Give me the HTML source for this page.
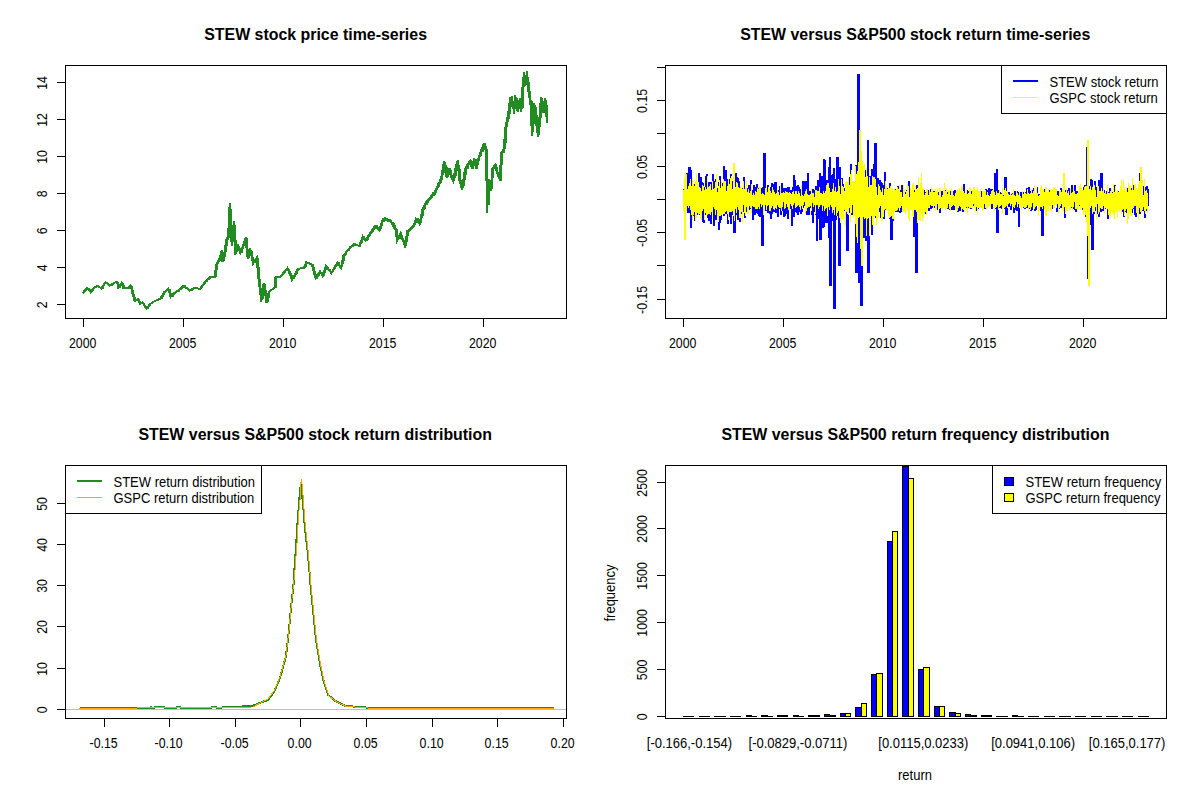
<!DOCTYPE html>
<html><head><meta charset="utf-8"><style>
html,body{margin:0;padding:0;background:#fff;width:1200px;height:800px;overflow:hidden}
svg{display:block}
path,line,rect{shape-rendering:crispEdges}
text{font-family:"Liberation Sans",sans-serif}
</style></head><body>
<svg width="1200" height="800" viewBox="0 0 1200 800">
<rect width="1200" height="800" fill="#fff"/>
<text x="0" y="0" transform="translate(315.6 40)" font-size="15.92" text-anchor="middle" font-weight="bold" fill="#000">STEW stock price time-series</text>
<path d="M82.9,293.6 L84.0,290.7 L87.4,288.0 L90.7,292.4 L93.0,289.0 L97.0,285.7 L101.4,288.5 L105.4,282.0 L109.9,285.7 L113.8,282.9 L117.2,282.0 L118.3,288.0 L121.7,282.9 L123.4,288.0 L127.9,288.5 L130.7,285.7 L132.4,293.0 L134.6,300.9 L138.0,299.2 L140.2,304.2 L142.5,302.6 L146.4,308.7 L149.8,304.2 L154.9,300.9 L160.5,298.6 L163.9,292.4 L168.4,288.5 L170.6,296.9 L174.0,293.0 L179.6,289.6 L183.5,285.9 L189.7,290.7 L195.2,287.5 L199.7,289.0 L205.0,282.2 L210.2,277.0 L214.7,277.0 L216.2,265.0 L219.2,259.0 L221.5,251.5 L222.2,262.0 L224.5,253.0 L226.0,241.0 L228.2,235.0 L229.7,203.5 L230.5,233.5 L232.0,245.5 L233.8,221.5 L235.0,254.5 L238.0,245.5 L240.2,253.0 L245.5,238.7 L247.7,259.0 L250.0,248.5 L253.0,263.5 L256.7,257.5 L258.2,277.0 L260.5,295.0 L261.2,301.7 L263.5,283.7 L266.5,302.4 L268.7,292.0 L274.7,287.5 L275.5,277.0 L280.0,277.0 L287.5,268.0 L292.0,280.0 L298.0,268.7 L304.0,268.0 L306.2,262.0 L312.0,265.1 L315.5,278.3 L319.9,271.3 L322.5,275.6 L326.0,266.0 L331.3,273.0 L337.4,262.5 L340.9,267.8 L343.5,255.5 L350.5,246.8 L354.0,244.1 L359.3,245.9 L362.8,236.3 L365.4,240.6 L375.0,225.8 L379.4,230.1 L382.9,218.8 L390.8,221.4 L396.0,231.0 L396.9,240.6 L400.4,233.6 L404.8,245.9 L407.4,231.0 L413.5,225.8 L416.1,218.8 L419.6,224.0 L422.3,210.0 L426.6,201.3 L434.5,192.5 L438.0,185.0 L441.0,179.0 L444.0,161.0 L446.0,177.0 L448.0,169.0 L453.0,181.0 L456.0,165.0 L458.0,163.0 L459.0,179.0 L462.0,189.0 L465.0,169.0 L470.0,161.0 L472.0,169.0 L474.0,159.0 L476.0,167.0 L480.0,153.0 L484.0,145.0 L486.0,149.0 L487.0,213.0 L489.0,179.0 L491.0,191.0 L492.0,169.0 L495.0,165.0 L497.0,173.0 L500.0,179.0 L501.0,153.0 L504.0,149.0 L505.0,130.0 L508.0,115.0 L509.5,103.0 L512.0,101.0 L514.0,112.0 L515.0,95.0 L517.0,111.0 L519.0,100.0 L521.0,112.0 L522.0,98.0 L523.0,77.0 L525.0,83.0 L527.0,75.0 L529.0,98.0 L530.0,95.0 L531.0,115.0 L532.0,136.0 L534.0,103.0 L536.0,122.0 L538.0,137.0 L540.0,110.0 L541.0,97.0 L543.0,113.0 L545.0,99.0 L547.0,123.0" fill="none" stroke="#228B22" stroke-width="2" stroke-linejoin="miter" />
<path d="M84 291.4V292.7M85 289.5V292.4M86 289.2V290.9M87 288.1V290.1M88 287.6V288.5M89 288.2V289.7M90 289.1V291.5M91 291.2V292.8M92 290.6V291.7M93 289.0V290.6M94 287.8V289.4M95 287.0V288.3M96 286.5V288.0M97 285.3V287.2M98 285.5V286.4M99 285.5V287.1M100 286.8V287.9M101 287.1V288.6M102 287.9V288.9M103 286.4V288.6M104 284.4V286.0M105 282.7V284.4M106 281.8V283.6M107 281.6V283.3M108 282.9V284.6M109 283.5V285.1M110 284.9V286.1M111 284.5V285.8M112 284.2V285.9M113 283.0V284.7M114 282.5V284.4M115 282.3V283.1M116 281.8V283.3M117 281.9V283.1M118 282.2V284.1M119 283.8V288.2M120 285.9V287.6M121 284.1V285.5M122 282.5V284.2M123 283.4V285.6M124 285.2V288.7M125 287.6V288.9M126 287.4V288.8M127 287.7V288.9M128 288.0V288.8M129 287.1V288.7M130 286.3V288.1M131 285.5V286.6M132 286.4V289.8M133 289.5V294.0M134 293.7V297.5M135 296.7V301.1M136 300.1V301.1M137 299.4V300.6M138 299.1V300.0M139 299.4V300.9M140 300.7V303.1M141 302.9V304.4M142 302.7V304.4M143 301.9V303.8M144 302.6V304.8M145 304.7V306.3M146 306.0V307.6M147 307.6V309.1M148 306.8V308.5M149 305.4V307.4M150 304.2V305.5M151 303.2V304.3M152 302.7V303.4M153 302.2V302.8M154 301.5V302.1M155 300.7V301.8M156 300.3V301.3M157 299.8V300.6M158 299.5V300.5M159 299.2V300.0M160 298.5V299.4M161 297.9V299.2M162 296.1V298.5M163 294.6V296.6M164 292.4V295.0M165 291.4V293.3M166 290.7V291.6M167 289.8V291.2M168 288.8V290.7M169 288.5V289.7M170 288.7V293.4M171 292.8V297.2M172 295.4V296.5M173 294.2V296.5M174 293.3V294.7M175 292.3V293.5M176 291.8V293.1M177 290.7V292.2M178 290.5V291.2M179 289.8V291.5M180 289.0V290.3M181 288.4V290.0M182 287.2V288.5M183 286.3V287.5M184 285.2V286.7M185 285.2V287.2M186 286.7V288.0M187 286.8V288.7M188 288.3V289.6M189 289.0V290.2M190 289.6V290.9M191 289.5V290.5M192 289.0V290.7M193 288.4V289.8M194 288.0V289.1M195 287.5V288.5M196 286.9V288.0M197 287.2V288.6M198 288.0V288.9M199 287.8V289.3M200 288.0V289.3M201 287.2V289.1M202 286.2V287.5M203 284.8V286.2M204 283.5V284.9M205 282.3V283.6M206 281.1V282.4M207 280.3V282.3M208 279.0V280.4M209 278.2V280.4M210 277.3V279.0M211 276.1V277.7M212 276.5V277.7M213 276.2V277.6M214 276.4V277.6M215 276.6V277.8M216 270.2V277.2M217 263.9V269.9M218 261.3V263.9M219 259.4V262.1M220 257.6V260.8M221 253.8V258.9M222 250.2V253.9M223 252.2V261.7M224 256.3V260.5M225 252.3V257.1M226 243.7V252.2M227 238.7V245.7M228 235.7V239.7M229 227.6V237.6M230 206.6V227.3M231 209.2V234.9M232 232.1V242.9M233 237.9V241.8M234 224.7V237.8M235 225.1V242.2M236 239.9V253.7M237 249.3V252.3M238 246.5V250.0M239 245.9V248.3M240 247.6V251.9M241 249.8V252.9M242 248.4V252.6M243 246.3V248.8M244 243.2V245.8M245 240.6V243.8M246 237.4V240.8M247 237.8V249.0M248 249.0V257.9M249 254.9V258.1M250 250.0V255.9M251 249.7V251.9M252 250.7V256.5M253 256.8V262.1M254 260.1V263.1M255 260.6V262.5M256 258.8V260.9M257 256.6V258.5M258 257.8V268.6M259 267.2V279.7M260 279.4V287.8M261 287.7V295.3M262 295.0V299.9M263 290.9V299.2M264 283.2V292.1M265 284.2V290.3M266 289.7V296.8M267 296.6V302.7M268 297.3V301.9M269 292.4V297.6M270 290.8V292.4M271 290.2V291.1M272 289.4V290.3M273 288.6V290.2M274 287.7V289.4M275 286.9V288.3M276 276.2V288.3M277 276.2V277.6M278 276.4V277.4M279 276.3V277.5M280 276.2V277.7M281 276.0V276.8M282 274.3V276.2M283 273.5V275.4M284 272.2V273.8M285 270.7V272.9M286 269.7V270.9M287 268.5V270.8M288 267.6V269.7M289 268.7V271.3M290 270.6V274.3M291 273.4V276.7M292 275.4V279.2M293 278.0V279.4M294 276.6V279.2M295 274.8V277.0M296 272.7V274.8M297 271.0V273.8M298 268.6V271.1M299 267.9V270.3M300 267.6V269.2M301 267.7V268.8M302 267.3V268.8M303 267.6V269.0M304 267.3V269.0M305 266.3V267.8M306 263.4V266.8M307 261.8V263.6M308 261.9V263.6M309 262.1V264.2M310 262.9V264.6M311 263.3V264.9M312 264.0V265.6M313 264.4V267.4M314 266.7V271.6M315 271.1V275.5M316 274.2V278.7M317 276.0V278.7M318 274.3V277.3M319 272.8V275.5M320 271.0V273.6M321 271.6V272.9M322 271.5V274.4M323 274.2V276.5M324 272.3V275.8M325 269.4V273.2M326 266.4V269.9M327 266.1V267.5M328 267.4V268.8M329 268.5V269.7M330 269.4V271.6M331 271.0V272.6M332 271.7V273.2M333 270.2V272.3M334 268.8V270.4M335 266.7V269.3M336 265.0V266.9M337 263.1V266.1M338 261.6V264.0M339 262.3V265.0M340 265.0V266.6M341 266.3V267.6M342 264.5V266.6M343 259.3V264.3M344 254.5V260.7M345 253.2V256.1M346 252.0V255.2M347 251.2V252.3M348 249.7V251.4M349 248.1V250.9M350 247.1V249.1M351 245.8V247.6M352 245.1V247.4M353 244.7V247.1M354 243.7V245.8M355 243.4V245.5M356 243.7V245.4M357 243.8V246.2M358 244.5V246.1M359 244.6V246.2M360 244.6V246.5M361 241.8V244.3M362 238.3V242.6M363 235.6V239.6M364 236.1V238.0M365 238.2V239.7M366 238.5V241.4M367 238.3V240.5M368 236.4V240.1M369 235.0V237.4M370 233.2V236.3M371 231.3V234.0M372 229.6V233.0M373 229.0V231.6M374 227.0V230.4M375 224.8V229.1M376 224.7V228.1M377 225.2V228.4M378 226.5V229.1M379 228.0V230.4M380 228.4V230.5M381 225.4V228.8M382 221.5V226.2M383 219.4V222.4M384 217.5V221.6M385 217.4V221.2M386 217.8V220.9M387 218.3V221.1M388 219.5V221.7M389 219.1V221.9M390 219.4V222.1M391 220.0V222.7M392 221.7V224.1M393 221.9V226.1M394 223.4V227.9M395 224.9V229.3M396 228.2V231.6M397 228.8V236.9M398 236.0V239.9M399 236.4V238.9M400 234.4V238.5M401 232.3V236.0M402 235.2V237.4M403 237.8V240.5M404 240.1V243.2M405 243.3V246.1M406 241.2V245.9M407 235.0V241.9M408 230.3V236.0M409 229.3V231.8M410 228.3V230.7M411 227.4V229.9M412 226.4V228.9M413 225.7V228.3M414 224.1V226.6M415 222.4V224.7M416 219.7V223.3M417 218.1V221.5M418 217.9V221.7M419 220.9V223.8M420 221.5V224.6M421 217.8V222.5M422 212.8V217.9M423 207.8V215.5M424 205.5V210.1M425 204.4V208.5M426 201.5V205.2M427 199.9V205.1M428 199.0V202.7M429 198.2V200.6M430 196.5V200.0M431 195.8V198.7M432 193.8V197.5M433 192.2V196.2M434 191.8V195.5M435 190.6V195.4M436 188.0V192.8M437 187.1V189.7M438 183.4V187.6M439 181.7V186.9M440 179.4V183.7M441 177.7V182.8M442 174.8V180.4M443 167.4V175.4M444 161.8V168.6M445 161.6V167.9M446 164.5V174.2M447 171.9V178.1M448 167.8V176.6M449 168.1V171.9M450 167.5V174.4M451 170.4V178.1M452 175.3V178.7M453 178.5V181.9M454 175.2V180.5M455 171.3V178.0M456 165.5V175.6M457 161.1V167.8M458 160.0V165.5M459 165.4V172.4M460 168.5V182.6M461 180.4V186.1M462 184.0V189.7M463 183.8V188.1M464 177.7V186.2M465 169.6V180.0M466 166.7V175.1M467 164.4V169.2M468 163.4V168.7M469 160.8V165.2M470 160.4V164.8M471 159.5V165.0M472 163.6V169.3M473 163.1V169.2M474 158.1V165.5M475 158.7V164.7M476 158.7V168.0M477 164.1V168.7M478 158.4V164.6M479 154.8V161.3M480 151.5V157.4M481 149.0V156.1M482 147.3V151.4M483 144.4V152.0M484 143.0V148.8M485 143.3V150.2M486 145.9V151.7M487 149.1V183.3M488 179.6V205.3M489 185.4V205.1M490 180.1V187.5M491 183.2V190.1M492 178.0V189.2M493 166.6V177.7M494 165.7V168.2M495 164.2V168.6M496 163.9V169.3M497 167.1V173.9M498 171.5V176.9M499 173.4V178.9M500 176.6V180.9M501 164.3V180.6M502 150.7V165.0M503 149.0V152.4M504 147.5V153.1M505 137.5V148.9M506 123.5V142.5M507 119.2V126.7M508 114.0V122.1M509 105.8V119.3M510 97.4V113.5M511 98.4V107.0M512 95.7V106.4M513 100.8V107.1M514 101.2V114.2M515 99.3V109.0M516 96.5V103.7M517 97.6V110.1M518 102.1V111.9M519 100.7V107.0M520 97.6V107.4M521 106.7V111.5M522 102.8V109.4M523 83.0V107.6M524 71.6V86.9M525 78.3V85.9M526 74.6V84.5M527 70.5V79.8M528 77.3V86.4M529 81.9V97.7M530 91.2V102.3M531 99.5V109.7M532 101.2V127.5M533 123.0V131.6M534 107.4V123.9M535 105.2V110.8M536 107.3V121.5M537 114.9V127.8M538 124.1V135.8M539 127.5V135.0M540 113.7V126.9M541 99.6V118.4M542 97.6V107.2M543 100.5V111.2M544 106.4V112.5M545 98.4V112.6M546 99.6V109.3M547 104.5V121.1" stroke="#228B22" stroke-width="2" fill="none"/>
<rect x="65.5" y="65.5" width="501.0" height="253.0" fill="none" stroke="#000" stroke-width="1"/>
<line x1="83.5" y1="318.5" x2="83.5" y2="327" stroke="#000" stroke-width="1" />
<text x="0" y="0" transform="translate(82.7 348) scale(0.95,1.12)" font-size="13" text-anchor="middle" font-weight="normal" fill="#000">2000</text>
<line x1="183.5" y1="318.5" x2="183.5" y2="327" stroke="#000" stroke-width="1" />
<text x="0" y="0" transform="translate(182.7 348) scale(0.95,1.12)" font-size="13" text-anchor="middle" font-weight="normal" fill="#000">2005</text>
<line x1="283.5" y1="318.5" x2="283.5" y2="327" stroke="#000" stroke-width="1" />
<text x="0" y="0" transform="translate(282.7 348) scale(0.95,1.12)" font-size="13" text-anchor="middle" font-weight="normal" fill="#000">2010</text>
<line x1="383.5" y1="318.5" x2="383.5" y2="327" stroke="#000" stroke-width="1" />
<text x="0" y="0" transform="translate(382.7 348) scale(0.95,1.12)" font-size="13" text-anchor="middle" font-weight="normal" fill="#000">2015</text>
<line x1="483.5" y1="318.5" x2="483.5" y2="327" stroke="#000" stroke-width="1" />
<text x="0" y="0" transform="translate(482.7 348) scale(0.95,1.12)" font-size="13" text-anchor="middle" font-weight="normal" fill="#000">2020</text>
<line x1="57" y1="304.5" x2="65.5" y2="304.5" stroke="#000" stroke-width="1" />
<text x="0" y="0" transform="translate(46.5 304.9) rotate(-90) scale(0.95,1.12)" font-size="13" text-anchor="middle" font-weight="normal" fill="#000">2</text>
<line x1="57" y1="267.5" x2="65.5" y2="267.5" stroke="#000" stroke-width="1" />
<text x="0" y="0" transform="translate(46.5 267.9) rotate(-90) scale(0.95,1.12)" font-size="13" text-anchor="middle" font-weight="normal" fill="#000">4</text>
<line x1="57" y1="230.5" x2="65.5" y2="230.5" stroke="#000" stroke-width="1" />
<text x="0" y="0" transform="translate(46.5 230.9) rotate(-90) scale(0.95,1.12)" font-size="13" text-anchor="middle" font-weight="normal" fill="#000">6</text>
<line x1="57" y1="193.5" x2="65.5" y2="193.5" stroke="#000" stroke-width="1" />
<text x="0" y="0" transform="translate(46.5 193.9) rotate(-90) scale(0.95,1.12)" font-size="13" text-anchor="middle" font-weight="normal" fill="#000">8</text>
<line x1="57" y1="156.5" x2="65.5" y2="156.5" stroke="#000" stroke-width="1" />
<text x="0" y="0" transform="translate(46.5 156.9) rotate(-90) scale(0.95,1.12)" font-size="13" text-anchor="middle" font-weight="normal" fill="#000">10</text>
<line x1="57" y1="119.5" x2="65.5" y2="119.5" stroke="#000" stroke-width="1" />
<text x="0" y="0" transform="translate(46.5 119.9) rotate(-90) scale(0.95,1.12)" font-size="13" text-anchor="middle" font-weight="normal" fill="#000">12</text>
<line x1="57" y1="82.5" x2="65.5" y2="82.5" stroke="#000" stroke-width="1" />
<text x="0" y="0" transform="translate(46.5 82.9) rotate(-90) scale(0.95,1.12)" font-size="13" text-anchor="middle" font-weight="normal" fill="#000">14</text>
<text x="0" y="0" transform="translate(915.2 40)" font-size="15.92" text-anchor="middle" font-weight="bold" fill="#000">STEW versus S&amp;P500 stock return time-series</text>
<path d="M684 188.6V209.0M685 180.9V221.4M686 187.8V209.2M687 172.6V211.1M688 185.4V212.6M689 166.5V213.4M690 166.5V211.1M691 169.5V227.8M692 185.3V219.1M693 186.7V211.0M694 186.7V216.0M695 183.5V221.3M696 189.7V215.8M697 184.7V210.6M698 190.0V214.5M699 173.3V213.9M700 177.3V215.0M701 177.3V212.4M702 181.9V212.2M703 182.8V221.6M704 192.5V223.2M705 186.9V214.9M706 175.6V208.9M707 173.5V206.5M708 182.2V218.1M709 181.6V221.2M710 181.9V213.7M711 188.0V224.2M712 182.2V210.5M713 174.4V213.4M714 180.9V225.8M715 180.9V219.7M716 179.3V219.7M717 192.1V215.5M718 188.2V215.2M719 182.3V229.6M720 176.4V223.3M721 190.5V220.4M722 183.1V206.7M723 186.4V206.9M724 166.3V215.8M725 189.3V214.4M726 170.4V212.0M727 181.2V213.7M728 179.1V223.7M729 178.9V217.1M730 184.9V212.7M731 174.4V224.1M732 181.1V215.0M733 181.1V212.5M734 183.1V232.9M735 173.4V232.9M736 173.4V214.7M737 176.7V214.7M738 178.2V219.7M739 181.1V216.0M740 187.6V222.1M741 189.4V213.5M742 192.4V211.2M743 188.3V211.5M744 177.0V207.8M745 191.3V218.0M746 188.9V212.0M747 191.0V211.5M748 188.4V211.7M749 184.9V210.3M750 186.8V208.0M751 180.3V209.1M752 190.8V211.1M753 190.0V220.1M754 185.1V214.5M755 187.3V214.5M756 191.5V212.7M757 183.8V213.2M758 190.2V213.8M759 187.9V215.6M760 187.5V216.7M761 187.5V209.0M762 190.3V246.1M763 186.5V246.1M764 153.3V209.0M765 153.3V204.8M766 189.9V210.7M767 189.9V210.4M768 184.5V212.5M769 191.3V210.1M770 194.7V214.1M771 187.3V219.3M772 183.4V214.4M773 188.1V208.8M774 183.5V211.7M775 181.7V205.2M776 181.7V212.9M777 192.9V209.7M778 191.1V217.2M779 190.1V209.0M780 186.3V208.5M781 194.9V215.0M782 183.2V210.5M783 192.9V206.5M784 188.3V216.5M785 188.0V216.1M786 188.0V204.2M787 190.7V213.6M788 186.8V219.0M789 187.1V207.7M790 190.5V207.5M791 189.7V209.2M792 190.5V225.6M793 186.8V212.2M794 175.1V216.5M795 180.2V207.7M796 189.3V211.5M797 185.5V212.7M798 185.3V214.7M799 186.5V211.7M800 188.5V210.2M801 193.7V213.7M802 187.7V211.5M803 180.6V208.0M804 180.8V206.3M805 186.5V204.8M806 180.7V212.0M807 180.7V215.1M808 172.8V202.7M809 191.9V215.4M810 190.7V204.8M811 192.5V207.9M812 191.0V214.9M813 188.7V223.2M814 190.0V211.7M815 189.9V211.7M816 185.7V214.6M817 189.1V241.2M818 179.6V213.7M819 185.3V218.7M820 172.6V239.5M821 180.8V239.5M822 175.6V225.7M823 184.5V227.9M824 159.1V227.2M825 159.9V222.7M826 180.0V222.7M827 180.0V222.8M828 190.1V214.6M829 166.5V238.3M830 157.1V285.9M831 174.9V285.9M832 177.3V219.2M833 173.5V221.3M834 168.1V309.2M835 179.4V309.2M836 182.3V219.7M837 156.6V216.1M838 156.6V214.5M839 189.8V266.0M840 167.1V266.0M841 187.1V210.2M842 178.4V212.1M843 184.1V210.6M844 187.6V211.2M845 189.1V208.3M846 188.5V218.3M847 188.9V251.4M848 191.0V251.4M849 184.3V212.9M850 177.2V206.0M851 163.8V213.5M852 187.2V214.6M853 181.4V204.3M854 187.2V214.0M855 186.2V210.7M856 164.5V272.7M857 178.8V272.7M858 73.7V232.9M859 73.7V282.6M860 163.6V282.6M861 157.6V305.8M862 182.5V305.8M863 167.0V238.4M864 179.7V214.9M865 177.7V237.5M866 169.5V241.0M867 187.6V227.5M868 140.0V272.7M869 187.0V272.7M870 175.8V214.5M871 176.5V222.6M872 168.9V234.7M873 175.8V214.6M874 164.0V215.9M875 143.3V211.1M876 143.3V218.2M877 181.4V212.8M878 178.2V216.6M879 187.0V212.2M880 179.6V206.3M881 181.9V217.6M882 183.0V209.0M883 186.3V218.5M884 185.0V218.5M885 171.5V201.8M886 190.8V210.1M887 191.1V209.3M888 187.6V205.8M889 193.1V215.4M890 183.2V218.5M891 191.1V239.5M892 191.5V239.5M893 193.2V220.5M894 192.3V207.7M895 188.6V208.9M896 192.5V211.9M897 190.6V212.1M898 185.8V211.8M899 192.3V211.8M900 191.6V212.8M901 190.3V212.1M902 185.3V207.0M903 192.5V207.9M904 192.4V208.5M905 193.6V206.8M906 192.0V204.2M907 190.0V203.7M908 194.5V208.2M909 180.5V211.7M910 195.5V204.3M911 192.2V207.9M912 193.9V207.9M913 187.4V207.3M914 191.3V236.9M915 189.6V207.4M916 195.0V272.7M917 185.0V272.7M918 193.2V210.2M919 190.0V208.8M920 190.6V202.6M921 193.6V210.0M922 193.8V206.9M923 192.5V206.1M924 190.1V207.3M925 191.6V213.6M926 192.2V210.7M927 194.5V208.7M928 190.4V204.4M929 192.0V210.9M930 192.6V207.4M931 189.4V208.6M932 190.0V208.1M933 191.4V206.5M934 191.0V206.8M935 193.0V208.3M936 195.4V208.7M937 193.6V209.5M938 194.4V206.5M939 191.6V204.2M940 191.4V213.1M941 191.7V208.5M942 190.5V206.3M943 192.4V207.6M944 192.0V205.4M945 192.6V205.4M946 189.8V207.2M947 191.5V206.9M948 191.5V208.7M949 191.8V207.3M950 190.8V210.2M951 190.9V207.4M952 192.3V210.3M953 190.9V207.6M954 192.2V209.6M955 190.4V203.3M956 192.4V207.8M957 193.0V204.2M958 192.2V212.1M959 193.5V207.4M960 194.2V210.6M961 192.6V206.6M962 193.4V205.3M963 196.0V211.5M964 183.6V206.1M965 194.8V206.1M966 194.4V207.4M967 190.3V208.4M968 190.7V204.6M969 191.9V208.0M970 189.6V209.0M971 193.4V208.6M972 191.2V207.9M973 191.3V203.0M974 187.8V205.5M975 191.3V206.6M976 192.5V208.1M977 190.3V211.3M978 191.3V208.7M979 191.3V206.2M980 192.2V205.9M981 190.5V203.8M982 194.3V203.9M983 191.5V205.1M984 191.5V207.0M985 191.9V208.6M986 188.5V204.7M987 191.8V204.4M988 189.5V206.7M989 188.0V202.4M990 189.2V205.9M991 195.8V204.9M992 189.1V209.1M993 193.3V204.8M994 192.3V206.3M995 173.2V203.9M996 173.2V209.4M997 169.2V232.9M998 190.3V232.9M999 192.7V207.8M1000 191.9V207.0M1001 193.3V208.2M1002 195.1V208.8M1003 195.2V207.4M1004 195.3V206.6M1005 176.5V209.3M1006 176.5V215.4M1007 191.0V215.4M1008 193.9V204.5M1009 191.6V206.7M1010 195.8V205.6M1011 195.1V210.4M1012 193.7V203.6M1013 192.7V205.6M1014 193.5V212.5M1015 190.7V206.9M1016 192.1V209.8M1017 190.6V210.6M1018 191.7V210.6M1019 191.7V227.1M1020 193.2V205.3M1021 191.8V208.2M1022 195.9V205.2M1023 191.7V204.5M1024 194.9V207.6M1025 195.6V208.8M1026 192.4V208.1M1027 187.8V206.4M1028 191.6V207.6M1029 187.1V207.5M1030 190.7V209.3M1031 191.2V211.0M1032 197.0V209.8M1033 189.7V205.1M1034 188.4V205.1M1035 194.4V210.9M1036 195.8V210.1M1037 187.1V204.3M1038 195.5V204.5M1039 193.6V209.1M1040 194.6V209.4M1041 191.6V211.0M1042 196.6V236.2M1043 195.5V236.2M1044 195.0V207.1M1045 188.7V206.9M1046 190.7V206.3M1047 193.0V204.8M1048 196.3V205.2M1049 190.3V206.1M1050 195.7V206.4M1051 194.8V209.1M1052 193.4V209.1M1053 189.5V206.6M1054 195.8V204.1M1055 192.0V202.8M1056 196.2V204.1M1057 190.8V211.6M1058 191.1V211.6M1059 195.5V208.5M1060 192.9V205.7M1061 187.5V207.5M1062 193.2V203.4M1063 192.9V206.0M1064 192.6V206.1M1065 194.0V217.7M1066 189.7V206.8M1067 189.8V208.3M1068 190.2V205.0M1069 188.4V206.4M1070 189.9V207.5M1071 192.9V207.5M1072 184.6V206.9M1073 187.9V207.3M1074 190.5V209.2M1075 185.3V210.3M1076 194.9V211.7M1077 191.0V206.0M1078 191.6V207.2M1079 194.1V206.0M1080 192.8V202.7M1081 193.4V203.4M1082 194.5V207.4M1083 189.6V210.3M1084 186.7V208.1M1085 185.4V209.1M1086 197.1V216.8M1087 146.6V210.3M1088 146.6V279.3M1089 189.2V279.3M1090 185.6V224.6M1091 179.4V217.0M1092 180.1V249.5M1093 188.1V249.5M1094 191.9V214.4M1095 180.5V211.1M1096 187.3V207.8M1097 190.8V214.3M1098 186.0V207.7M1099 180.2V216.5M1100 185.9V212.3M1101 173.2V212.2M1102 173.2V210.6M1103 191.5V210.5M1104 190.4V208.9M1105 193.3V208.5M1106 192.7V206.5M1107 190.7V207.1M1108 192.4V219.2M1109 192.2V205.7M1110 188.3V202.5M1111 193.4V207.8M1112 193.3V205.8M1113 192.4V205.9M1114 194.2V205.5M1115 185.4V209.5M1116 193.9V206.7M1117 193.4V211.5M1118 191.3V207.3M1119 192.1V208.4M1120 195.4V204.9M1121 188.4V209.6M1122 191.0V207.0M1123 189.6V212.1M1124 190.9V217.2M1125 190.9V209.5M1126 190.2V211.8M1127 192.7V213.0M1128 188.1V210.7M1129 192.8V212.9M1130 191.4V204.1M1131 188.4V210.1M1132 191.1V213.3M1133 194.3V206.1M1134 185.4V208.9M1135 185.0V214.5M1136 190.0V217.2M1137 189.5V213.5M1138 196.1V211.6M1139 194.3V211.6M1140 173.2V213.9M1141 173.2V206.9M1142 190.8V203.4M1143 193.6V210.5M1144 186.2V209.8M1145 187.3V217.6M1146 188.6V211.2M1147 186.2V211.2M1148 188.7V206.4" stroke="#0000FF" stroke-width="2" fill="none"/>
<path d="M683.5 190.2V211.2M684.5 177.5V239.5M685.5 173.8V239.5M686.5 173.8V211.1M687.5 188.8V206.4M688.5 185.5V208.4M689.5 182.8V205.7M690.5 178.7V209.5M691.5 186.3V215.1M692.5 178.2V220.1M693.5 183.6V215.4M694.5 185.9V211.5M695.5 180.9V220.8M696.5 173.8V218.2M697.5 182.0V212.9M698.5 182.0V215.0M699.5 187.4V214.3M700.5 188.4V217.6M701.5 191.0V220.2M702.5 184.6V210.5M703.5 185.5V208.9M704.5 190.0V220.1M705.5 187.1V213.0M706.5 188.5V215.4M707.5 176.1V214.5M708.5 186.6V213.7M709.5 186.2V213.5M710.5 183.5V215.0M711.5 189.5V212.3M712.5 180.9V216.7M713.5 188.5V207.1M714.5 188.0V208.8M715.5 181.8V215.4M716.5 173.8V210.4M717.5 192.2V217.0M718.5 185.6V221.9M719.5 180.1V215.6M720.5 187.6V216.1M721.5 180.7V214.7M722.5 185.6V213.5M723.5 179.1V213.6M724.5 181.0V213.6M725.5 180.6V211.6M726.5 190.9V211.2M727.5 186.3V213.9M728.5 179.0V219.8M729.5 184.0V211.7M730.5 178.4V211.5M731.5 175.6V211.5M732.5 188.6V211.3M733.5 163.2V216.2M734.5 163.2V221.0M735.5 187.3V208.8M736.5 181.9V212.8M737.5 182.9V207.0M738.5 186.7V210.0M739.5 187.5V218.1M740.5 185.8V218.1M741.5 187.6V212.0M742.5 189.2V222.6M743.5 181.1V204.7M744.5 188.7V212.9M745.5 185.9V215.6M746.5 180.8V207.2M747.5 192.0V214.0M748.5 189.2V214.0M749.5 192.9V206.0M750.5 191.3V207.9M751.5 183.8V213.1M752.5 194.8V205.8M753.5 193.3V207.1M754.5 194.8V207.3M755.5 190.5V209.4M756.5 192.2V208.9M757.5 187.8V209.4M758.5 189.1V206.9M759.5 186.0V208.5M760.5 187.4V203.7M761.5 194.1V207.2M762.5 192.9V205.4M763.5 194.3V215.2M764.5 195.1V210.7M765.5 188.3V204.9M766.5 188.3V209.9M767.5 192.2V205.5M768.5 186.8V205.4M769.5 187.5V211.2M770.5 191.3V211.1M771.5 192.9V207.5M772.5 187.4V205.5M773.5 189.7V208.5M774.5 191.9V209.5M775.5 193.8V208.4M776.5 193.1V208.9M777.5 189.8V205.4M778.5 191.8V207.4M779.5 194.9V208.2M780.5 184.6V207.9M781.5 192.9V211.0M782.5 193.3V207.2M783.5 192.2V202.3M784.5 192.6V208.6M785.5 190.8V207.7M786.5 192.1V203.6M787.5 192.0V207.0M788.5 192.8V209.5M789.5 192.3V210.4M790.5 193.4V204.3M791.5 194.3V205.7M792.5 192.4V208.9M793.5 190.6V204.6M794.5 193.6V202.9M795.5 191.3V208.3M796.5 190.8V206.7M797.5 193.6V205.7M798.5 191.4V205.2M799.5 192.6V207.3M800.5 196.4V209.6M801.5 186.4V205.6M802.5 194.9V208.5M803.5 196.3V205.4M804.5 194.2V202.4M805.5 190.5V214.1M806.5 188.5V211.3M807.5 193.5V208.3M808.5 194.6V207.2M809.5 194.6V207.0M810.5 194.1V205.7M811.5 188.8V211.1M812.5 192.6V202.8M813.5 192.9V207.1M814.5 197.4V205.0M815.5 189.5V213.8M816.5 189.5V205.4M817.5 191.2V205.3M818.5 191.3V209.4M819.5 187.2V207.2M820.5 193.1V205.4M821.5 192.6V204.6M822.5 193.6V210.8M823.5 190.5V206.0M824.5 192.5V211.0M825.5 190.9V208.7M826.5 185.4V207.5M827.5 183.3V216.3M828.5 183.3V206.5M829.5 187.8V210.0M830.5 191.6V204.9M831.5 192.0V207.0M832.5 188.5V212.6M833.5 182.8V210.1M834.5 191.0V215.0M835.5 186.5V206.9M836.5 192.0V215.8M837.5 191.2V212.8M838.5 179.4V211.1M839.5 186.2V218.1M840.5 194.0V222.5M841.5 178.7V218.8M842.5 186.1V218.9M843.5 187.1V218.9M844.5 190.9V209.9M845.5 182.0V225.8M846.5 180.5V211.9M847.5 182.1V214.0M848.5 178.4V214.7M849.5 185.4V208.0M850.5 173.6V222.0M851.5 170.3V213.1M852.5 181.4V205.4M853.5 180.5V217.2M854.5 182.4V216.2M855.5 166.1V223.8M856.5 174.2V237.2M857.5 171.4V243.1M858.5 162.2V217.6M859.5 130.0V217.2M860.5 130.0V249.2M861.5 150.5V266.0M862.5 161.0V266.0M863.5 166.3V217.4M864.5 163.5V219.1M865.5 176.7V217.5M866.5 168.2V236.1M867.5 175.9V219.4M868.5 186.9V217.7M869.5 177.2V235.8M870.5 184.7V226.8M871.5 184.8V216.0M872.5 176.1V224.6M873.5 176.6V224.6M874.5 176.6V217.2M875.5 179.1V215.6M876.5 187.1V225.4M877.5 194.5V219.0M878.5 184.1V216.9M879.5 185.5V208.1M880.5 189.9V206.1M881.5 191.6V221.3M882.5 188.4V221.3M883.5 194.6V217.1M884.5 189.1V210.1M885.5 181.4V208.9M886.5 186.1V211.3M887.5 188.6V210.1M888.5 187.9V216.1M889.5 188.3V218.0M890.5 185.7V216.9M891.5 189.3V215.8M892.5 188.1V219.4M893.5 190.9V219.4M894.5 189.2V210.5M895.5 190.0V211.2M896.5 190.1V210.6M897.5 186.5V210.4M898.5 188.6V208.2M899.5 185.4V210.5M900.5 192.1V208.0M901.5 192.0V206.4M902.5 196.6V212.1M903.5 186.2V212.3M904.5 189.3V212.3M905.5 194.4V214.2M906.5 191.2V208.4M907.5 183.8V210.5M908.5 186.4V218.7M909.5 197.0V220.6M910.5 187.5V210.4M911.5 190.3V209.5M912.5 183.9V216.3M913.5 183.3V217.2M914.5 192.3V210.4M915.5 186.1V209.5M916.5 188.9V211.7M917.5 187.7V222.6M918.5 178.2V220.0M919.5 187.8V220.1M920.5 182.8V220.9M921.5 173.4V213.6M922.5 187.0V220.9M923.5 188.7V218.0M924.5 194.7V213.6M925.5 193.2V211.7M926.5 188.9V215.4M927.5 189.1V210.5M928.5 194.7V207.8M929.5 190.5V208.1M930.5 191.5V205.1M931.5 187.2V205.8M932.5 188.5V205.7M933.5 192.3V209.6M934.5 191.9V206.3M935.5 188.7V210.5M936.5 191.3V209.7M937.5 188.0V203.6M938.5 195.2V207.6M939.5 187.5V209.0M940.5 188.3V208.3M941.5 197.1V209.4M942.5 195.0V210.0M943.5 189.9V208.1M944.5 183.1V207.0M945.5 190.9V210.0M946.5 187.8V209.2M947.5 194.4V207.8M948.5 189.8V204.3M949.5 190.3V208.6M950.5 194.8V211.2M951.5 188.5V206.7M952.5 190.9V205.5M953.5 195.3V205.4M954.5 196.0V206.4M955.5 192.9V209.6M956.5 190.5V209.3M957.5 189.3V210.6M958.5 190.3V207.9M959.5 188.3V206.3M960.5 191.4V207.0M961.5 186.0V210.6M962.5 187.3V208.7M963.5 190.8V209.6M964.5 192.9V210.7M965.5 194.2V206.6M966.5 189.4V206.6M967.5 193.7V214.1M968.5 192.9V206.7M969.5 186.9V209.2M970.5 187.9V207.8M971.5 194.0V207.6M972.5 189.8V209.3M973.5 187.0V203.7M974.5 187.0V208.3M975.5 190.1V210.9M976.5 189.6V207.3M977.5 187.0V213.7M978.5 190.8V207.9M979.5 191.2V208.2M980.5 189.1V207.0M981.5 196.5V207.9M982.5 190.7V211.2M983.5 190.8V210.4M984.5 190.8V204.0M985.5 190.3V208.2M986.5 195.2V210.1M987.5 191.8V208.3M988.5 194.9V206.7M989.5 195.7V205.6M990.5 193.9V207.9M991.5 191.4V204.1M992.5 190.4V203.9M993.5 190.3V208.4M994.5 191.9V210.8M995.5 195.4V207.8M996.5 191.4V206.9M997.5 192.5V204.6M998.5 192.6V210.2M999.5 189.5V206.8M1000.5 193.5V205.8M1001.5 194.1V204.6M1002.5 187.5V212.9M1003.5 195.6V208.0M1004.5 190.0V208.1M1005.5 187.8V207.2M1006.5 191.0V205.8M1007.5 189.0V208.0M1008.5 193.6V204.2M1009.5 195.0V202.9M1010.5 193.3V206.2M1011.5 194.5V204.3M1012.5 193.8V207.4M1013.5 189.9V206.7M1014.5 194.9V207.6M1015.5 195.9V204.8M1016.5 190.8V202.1M1017.5 192.6V207.1M1018.5 195.1V203.9M1019.5 191.0V207.8M1020.5 196.3V207.7M1021.5 197.7V210.3M1022.5 190.9V205.9M1023.5 194.0V207.0M1024.5 194.0V208.1M1025.5 192.9V208.2M1026.5 194.4V207.3M1027.5 188.9V204.7M1028.5 193.1V210.6M1029.5 194.2V208.2M1030.5 193.2V209.7M1031.5 188.5V207.0M1032.5 193.2V202.6M1033.5 190.6V206.9M1034.5 184.5V208.8M1035.5 193.0V207.0M1036.5 186.6V206.4M1037.5 193.2V206.4M1038.5 196.1V216.1M1039.5 195.4V210.5M1040.5 187.0V206.9M1041.5 185.5V206.5M1042.5 190.3V209.2M1043.5 190.3V206.4M1044.5 191.5V209.5M1045.5 186.9V216.0M1046.5 187.2V216.0M1047.5 192.4V210.6M1048.5 189.2V210.9M1049.5 191.8V205.5M1050.5 190.0V210.1M1051.5 189.4V212.3M1052.5 190.4V204.9M1053.5 186.9V208.0M1054.5 187.7V207.7M1055.5 189.3V204.7M1056.5 189.1V208.3M1057.5 194.5V204.0M1058.5 195.5V213.7M1059.5 191.1V207.5M1060.5 189.8V205.6M1061.5 192.0V203.8M1062.5 189.3V209.8M1063.5 173.2V211.4M1064.5 173.2V206.5M1065.5 192.2V213.7M1066.5 188.4V211.2M1067.5 192.9V211.2M1068.5 191.1V206.2M1069.5 194.5V209.5M1070.5 188.7V209.5M1071.5 192.8V206.6M1072.5 191.8V210.4M1073.5 188.0V206.7M1074.5 191.0V202.4M1075.5 193.9V208.7M1076.5 194.2V208.8M1077.5 193.0V209.9M1078.5 191.9V209.9M1079.5 186.0V204.7M1080.5 184.3V210.3M1081.5 186.8V208.1M1082.5 189.5V208.4M1083.5 189.5V215.1M1084.5 187.4V211.7M1085.5 185.8V215.4M1086.5 185.8V222.0M1087.5 140.0V235.5M1088.5 140.0V285.9M1089.5 188.5V285.9M1090.5 186.0V207.6M1091.5 189.8V205.9M1092.5 186.6V213.8M1093.5 188.4V211.9M1094.5 184.6V212.2M1095.5 189.6V206.9M1096.5 197.2V219.1M1097.5 185.8V203.8M1098.5 186.1V214.0M1099.5 190.5V212.0M1100.5 190.5V207.8M1101.5 188.3V208.8M1102.5 191.3V209.4M1103.5 189.9V206.1M1104.5 193.1V212.9M1105.5 192.6V208.0M1106.5 193.8V208.2M1107.5 185.2V209.0M1108.5 192.5V214.8M1109.5 192.6V215.2M1110.5 190.9V217.5M1111.5 189.1V210.6M1112.5 192.7V213.3M1113.5 184.1V214.6M1114.5 191.9V218.7M1115.5 185.5V211.7M1116.5 192.0V211.7M1117.5 190.0V216.9M1118.5 191.8V209.7M1119.5 192.1V211.9M1120.5 186.3V209.7M1121.5 180.3V214.4M1122.5 190.4V209.5M1123.5 179.6V209.2M1124.5 187.3V215.8M1125.5 190.3V211.1M1126.5 186.5V209.3M1127.5 192.3V223.5M1128.5 182.6V218.6M1129.5 186.0V213.3M1130.5 185.6V215.9M1131.5 190.3V215.9M1132.5 178.2V209.0M1133.5 190.0V208.0M1134.5 185.3V206.0M1135.5 184.3V206.4M1136.5 187.8V213.2M1137.5 189.5V214.1M1138.5 183.8V220.4M1139.5 181.4V207.7M1140.5 166.5V212.4M1141.5 166.5V212.2M1142.5 179.5V209.7M1143.5 194.6V207.3M1144.5 178.8V210.9M1145.5 191.0V213.7M1146.5 190.2V209.2M1147.5 193.2V212.5" stroke="#FFFF00" stroke-width="1" fill="none"/>
<rect x="665.5" y="65.5" width="501.0" height="253.0" fill="none" stroke="#000" stroke-width="1"/>
<line x1="683.5" y1="318.5" x2="683.5" y2="327" stroke="#000" stroke-width="1" />
<text x="0" y="0" transform="translate(682.7 348) scale(0.95,1.12)" font-size="13" text-anchor="middle" font-weight="normal" fill="#000">2000</text>
<line x1="783.5" y1="318.5" x2="783.5" y2="327" stroke="#000" stroke-width="1" />
<text x="0" y="0" transform="translate(782.7 348) scale(0.95,1.12)" font-size="13" text-anchor="middle" font-weight="normal" fill="#000">2005</text>
<line x1="883.5" y1="318.5" x2="883.5" y2="327" stroke="#000" stroke-width="1" />
<text x="0" y="0" transform="translate(882.7 348) scale(0.95,1.12)" font-size="13" text-anchor="middle" font-weight="normal" fill="#000">2010</text>
<line x1="983.5" y1="318.5" x2="983.5" y2="327" stroke="#000" stroke-width="1" />
<text x="0" y="0" transform="translate(982.7 348) scale(0.95,1.12)" font-size="13" text-anchor="middle" font-weight="normal" fill="#000">2015</text>
<line x1="1083.5" y1="318.5" x2="1083.5" y2="327" stroke="#000" stroke-width="1" />
<text x="0" y="0" transform="translate(1082.7 348) scale(0.95,1.12)" font-size="13" text-anchor="middle" font-weight="normal" fill="#000">2020</text>
<line x1="657" y1="67.5" x2="665.5" y2="67.5" stroke="#000" stroke-width="1" />
<line x1="657" y1="100.5" x2="665.5" y2="100.5" stroke="#000" stroke-width="1" />
<line x1="657" y1="133.5" x2="665.5" y2="133.5" stroke="#000" stroke-width="1" />
<line x1="657" y1="166.5" x2="665.5" y2="166.5" stroke="#000" stroke-width="1" />
<line x1="657" y1="199.5" x2="665.5" y2="199.5" stroke="#000" stroke-width="1" />
<line x1="657" y1="232.5" x2="665.5" y2="232.5" stroke="#000" stroke-width="1" />
<line x1="657" y1="265.5" x2="665.5" y2="265.5" stroke="#000" stroke-width="1" />
<line x1="657" y1="299.5" x2="665.5" y2="299.5" stroke="#000" stroke-width="1" />
<text x="0" y="0" transform="translate(646.5 100.9) rotate(-90) scale(0.95,1.12)" font-size="13" text-anchor="middle" font-weight="normal" fill="#000">0.15</text>
<text x="0" y="0" transform="translate(646.5 166.9) rotate(-90) scale(0.95,1.12)" font-size="13" text-anchor="middle" font-weight="normal" fill="#000">0.05</text>
<text x="0" y="0" transform="translate(646.5 232.9) rotate(-90) scale(0.95,1.12)" font-size="13" text-anchor="middle" font-weight="normal" fill="#000">-0.05</text>
<text x="0" y="0" transform="translate(646.5 299.9) rotate(-90) scale(0.95,1.12)" font-size="13" text-anchor="middle" font-weight="normal" fill="#000">-0.15</text>
<rect x="1001.5" y="65.5" width="165.0" height="48.0" fill="#fff" stroke="#000" stroke-width="1"/>
<line x1="1013" y1="81" x2="1038" y2="81" stroke="#0000FF" stroke-width="2" />
<line x1="1013" y1="97.5" x2="1038" y2="97.5" stroke="#FFFF00" stroke-width="1" />
<text x="0" y="0" transform="translate(1049.5 87) scale(1.0,1.1)" font-size="13" text-anchor="start" font-weight="normal" fill="#000">STEW stock return</text>
<text x="0" y="0" transform="translate(1049.5 103) scale(1.0,1.1)" font-size="13" text-anchor="start" font-weight="normal" fill="#000">GSPC stock return</text>
<text x="0" y="0" transform="translate(315.2 440)" font-size="15.92" text-anchor="middle" font-weight="bold" fill="#000">STEW versus S&amp;P500 stock return distribution</text>
<line x1="65.5" y1="709.5" x2="566.5" y2="709.5" stroke="#BEBEBE" stroke-width="1" />
<path d="M79.5,708.0 L150.0,708.0 L151.0,707.0 L152.0,708.0 L157.0,707.0 L164.0,707.0 L165.0,708.0 L176.0,708.0 L177.0,707.0 L180.0,707.0 L181.0,708.0 L211.0,708.0 L212.0,707.0 L216.0,707.0 L217.0,708.0 L228.0,707.0 L240.0,707.0 L244.0,706.0 L252.0,706.0 L255.0,705.0 L262.0,702.0 L268.0,700.0 L274.0,692.0 L280.0,678.0 L286.0,656.0 L289.0,630.0 L291.0,608.0 L294.0,580.0 L294.4,570.0 L296.2,543.8 L298.0,516.0 L299.4,500.0 L300.0,487.5 L301.2,486.0 L303.0,503.8 L305.0,528.8 L307.5,550.0 L309.4,570.0 L310.0,580.0 L313.0,610.0 L316.0,640.0 L320.0,664.0 L323.3,680.0 L328.3,695.0 L335.0,700.8 L345.0,705.8 L358.3,707.0 L373.3,708.0 L554.0,708.0" fill="none" stroke="#228B22" stroke-width="2"/>
<path d="M79.5,708.5 L253.0,707.0 L262.0,702.0 L268.0,699.0 L274.0,691.0 L280.0,677.0 L286.0,655.0 L289.0,630.0 L291.0,608.0 L294.0,580.0 L295.0,570.0 L297.0,543.0 L298.5,516.0 L300.0,500.0 L300.6,487.0 L301.2,479.4 L302.5,487.0 L303.5,503.0 L305.5,528.0 L308.0,550.0 L309.8,570.0 L310.5,580.0 L313.5,610.0 L316.5,640.0 L320.5,664.0 L324.0,681.0 L329.0,696.0 L336.0,701.5 L346.0,706.2 L360.0,707.5 L375.0,708.5 L554.0,708.5" fill="none" stroke="#FFA500" stroke-width="1"/>
<rect x="65.5" y="465.5" width="501.0" height="253.0" fill="none" stroke="#000" stroke-width="1"/>
<line x1="104.5" y1="718.5" x2="104.5" y2="727" stroke="#000" stroke-width="1" />
<text x="0" y="0" transform="translate(103.6 748) scale(0.95,1.12)" font-size="13" text-anchor="middle" font-weight="normal" fill="#000">-0.15</text>
<line x1="169.5" y1="718.5" x2="169.5" y2="727" stroke="#000" stroke-width="1" />
<text x="0" y="0" transform="translate(168.6 748) scale(0.95,1.12)" font-size="13" text-anchor="middle" font-weight="normal" fill="#000">-0.10</text>
<line x1="235.5" y1="718.5" x2="235.5" y2="727" stroke="#000" stroke-width="1" />
<text x="0" y="0" transform="translate(234.6 748) scale(0.95,1.12)" font-size="13" text-anchor="middle" font-weight="normal" fill="#000">-0.05</text>
<line x1="300.5" y1="718.5" x2="300.5" y2="727" stroke="#000" stroke-width="1" />
<text x="0" y="0" transform="translate(299.6 748) scale(0.95,1.12)" font-size="13" text-anchor="middle" font-weight="normal" fill="#000">0.00</text>
<line x1="366.5" y1="718.5" x2="366.5" y2="727" stroke="#000" stroke-width="1" />
<text x="0" y="0" transform="translate(365.6 748) scale(0.95,1.12)" font-size="13" text-anchor="middle" font-weight="normal" fill="#000">0.05</text>
<line x1="432.5" y1="718.5" x2="432.5" y2="727" stroke="#000" stroke-width="1" />
<text x="0" y="0" transform="translate(431.6 748) scale(0.95,1.12)" font-size="13" text-anchor="middle" font-weight="normal" fill="#000">0.10</text>
<line x1="497.5" y1="718.5" x2="497.5" y2="727" stroke="#000" stroke-width="1" />
<text x="0" y="0" transform="translate(496.6 748) scale(0.95,1.12)" font-size="13" text-anchor="middle" font-weight="normal" fill="#000">0.15</text>
<line x1="563.5" y1="718.5" x2="563.5" y2="727" stroke="#000" stroke-width="1" />
<text x="0" y="0" transform="translate(562.6 748) scale(0.95,1.12)" font-size="13" text-anchor="middle" font-weight="normal" fill="#000">0.20</text>
<line x1="57" y1="709.5" x2="65.5" y2="709.5" stroke="#000" stroke-width="1" />
<text x="0" y="0" transform="translate(46.5 709.9) rotate(-90) scale(0.95,1.12)" font-size="13" text-anchor="middle" font-weight="normal" fill="#000">0</text>
<line x1="57" y1="668.5" x2="65.5" y2="668.5" stroke="#000" stroke-width="1" />
<text x="0" y="0" transform="translate(46.5 668.9) rotate(-90) scale(0.95,1.12)" font-size="13" text-anchor="middle" font-weight="normal" fill="#000">10</text>
<line x1="57" y1="626.5" x2="65.5" y2="626.5" stroke="#000" stroke-width="1" />
<text x="0" y="0" transform="translate(46.5 626.9) rotate(-90) scale(0.95,1.12)" font-size="13" text-anchor="middle" font-weight="normal" fill="#000">20</text>
<line x1="57" y1="585.5" x2="65.5" y2="585.5" stroke="#000" stroke-width="1" />
<text x="0" y="0" transform="translate(46.5 585.9) rotate(-90) scale(0.95,1.12)" font-size="13" text-anchor="middle" font-weight="normal" fill="#000">30</text>
<line x1="57" y1="544.5" x2="65.5" y2="544.5" stroke="#000" stroke-width="1" />
<text x="0" y="0" transform="translate(46.5 544.9) rotate(-90) scale(0.95,1.12)" font-size="13" text-anchor="middle" font-weight="normal" fill="#000">40</text>
<line x1="57" y1="503.5" x2="65.5" y2="503.5" stroke="#000" stroke-width="1" />
<text x="0" y="0" transform="translate(46.5 503.9) rotate(-90) scale(0.95,1.12)" font-size="13" text-anchor="middle" font-weight="normal" fill="#000">50</text>
<rect x="65.5" y="465.5" width="196.0" height="48.0" fill="#fff" stroke="#000" stroke-width="1"/>
<line x1="77" y1="481" x2="102" y2="481" stroke="#228B22" stroke-width="2" />
<line x1="77" y1="497.5" x2="102" y2="497.5" stroke="#FFA500" stroke-width="1" />
<text x="0" y="0" transform="translate(113.5 487) scale(1.0,1.1)" font-size="13" text-anchor="start" font-weight="normal" fill="#000">STEW return distribution</text>
<text x="0" y="0" transform="translate(113.5 503) scale(1.0,1.1)" font-size="13" text-anchor="start" font-weight="normal" fill="#000">GSPC return distribution</text>
<text x="0" y="0" transform="translate(915.4 440)" font-size="15.92" text-anchor="middle" font-weight="bold" fill="#000">STEW versus S&amp;P500 return frequency distribution</text>
<line x1="683" y1="716.5" x2="689" y2="716.5" stroke="#000" stroke-width="1"/>
<line x1="688" y1="716.5" x2="694" y2="716.5" stroke="#000" stroke-width="1"/>
<line x1="699" y1="716.5" x2="705" y2="716.5" stroke="#000" stroke-width="1"/>
<line x1="704" y1="716.5" x2="710" y2="716.5" stroke="#000" stroke-width="1"/>
<line x1="714" y1="716.5" x2="721" y2="716.5" stroke="#000" stroke-width="1"/>
<line x1="720" y1="716.5" x2="726" y2="716.5" stroke="#000" stroke-width="1"/>
<line x1="730" y1="716.5" x2="736" y2="716.5" stroke="#000" stroke-width="1"/>
<line x1="735" y1="716.5" x2="741" y2="716.5" stroke="#000" stroke-width="1"/>
<rect x="746.5" y="715.5" width="5" height="1" fill="#0000FF" stroke="#000" stroke-width="1"/>
<line x1="751" y1="716.5" x2="757" y2="716.5" stroke="#000" stroke-width="1"/>
<rect x="761.5" y="715.5" width="6" height="1" fill="#0000FF" stroke="#000" stroke-width="1"/>
<line x1="767" y1="716.5" x2="773" y2="716.5" stroke="#000" stroke-width="1"/>
<rect x="777.5" y="715.5" width="5" height="1" fill="#0000FF" stroke="#000" stroke-width="1"/>
<rect x="782.5" y="715.5" width="5" height="1" fill="#FFFF00" stroke="#000" stroke-width="1"/>
<rect x="793.5" y="715.5" width="5" height="1" fill="#0000FF" stroke="#000" stroke-width="1"/>
<line x1="798" y1="716.5" x2="804" y2="716.5" stroke="#000" stroke-width="1"/>
<rect x="808.5" y="715.5" width="6" height="1" fill="#0000FF" stroke="#000" stroke-width="1"/>
<rect x="814.5" y="715.5" width="5" height="1" fill="#FFFF00" stroke="#000" stroke-width="1"/>
<rect x="824.5" y="714.5" width="5" height="2" fill="#0000FF" stroke="#000" stroke-width="1"/>
<rect x="829.5" y="715.5" width="6" height="1" fill="#FFFF00" stroke="#000" stroke-width="1"/>
<rect x="840.5" y="713.5" width="5" height="3" fill="#0000FF" stroke="#000" stroke-width="1"/>
<rect x="845.5" y="713.5" width="5" height="3" fill="#FFFF00" stroke="#000" stroke-width="1"/>
<rect x="855.5" y="707.5" width="6" height="9" fill="#0000FF" stroke="#000" stroke-width="1"/>
<rect x="861.5" y="703.5" width="5" height="13" fill="#FFFF00" stroke="#000" stroke-width="1"/>
<rect x="871.5" y="674.5" width="5" height="42" fill="#0000FF" stroke="#000" stroke-width="1"/>
<rect x="876.5" y="673.5" width="6" height="43" fill="#FFFF00" stroke="#000" stroke-width="1"/>
<rect x="887.5" y="541.5" width="5" height="175" fill="#0000FF" stroke="#000" stroke-width="1"/>
<rect x="892.5" y="531.5" width="5" height="185" fill="#FFFF00" stroke="#000" stroke-width="1"/>
<rect x="902.5" y="466.5" width="6" height="250" fill="#0000FF" stroke="#000" stroke-width="1"/>
<rect x="908.5" y="478.5" width="5" height="238" fill="#FFFF00" stroke="#000" stroke-width="1"/>
<rect x="918.5" y="669.5" width="5" height="47" fill="#0000FF" stroke="#000" stroke-width="1"/>
<rect x="923.5" y="667.5" width="6" height="49" fill="#FFFF00" stroke="#000" stroke-width="1"/>
<rect x="934.5" y="706.5" width="5" height="10" fill="#0000FF" stroke="#000" stroke-width="1"/>
<rect x="939.5" y="706.5" width="5" height="10" fill="#FFFF00" stroke="#000" stroke-width="1"/>
<rect x="949.5" y="712.5" width="6" height="4" fill="#0000FF" stroke="#000" stroke-width="1"/>
<rect x="955.5" y="713.5" width="5" height="3" fill="#FFFF00" stroke="#000" stroke-width="1"/>
<rect x="965.5" y="714.5" width="5" height="2" fill="#0000FF" stroke="#000" stroke-width="1"/>
<rect x="970.5" y="715.5" width="6" height="1" fill="#FFFF00" stroke="#000" stroke-width="1"/>
<rect x="981.5" y="715.5" width="5" height="1" fill="#0000FF" stroke="#000" stroke-width="1"/>
<rect x="986.5" y="715.5" width="5" height="1" fill="#FFFF00" stroke="#000" stroke-width="1"/>
<line x1="996" y1="716.5" x2="1003" y2="716.5" stroke="#000" stroke-width="1"/>
<line x1="1002" y1="716.5" x2="1008" y2="716.5" stroke="#000" stroke-width="1"/>
<rect x="1012.5" y="715.5" width="5" height="1" fill="#0000FF" stroke="#000" stroke-width="1"/>
<line x1="1017" y1="716.5" x2="1024" y2="716.5" stroke="#000" stroke-width="1"/>
<line x1="1028" y1="716.5" x2="1034" y2="716.5" stroke="#000" stroke-width="1"/>
<line x1="1033" y1="716.5" x2="1039" y2="716.5" stroke="#000" stroke-width="1"/>
<line x1="1044" y1="716.5" x2="1050" y2="716.5" stroke="#000" stroke-width="1"/>
<line x1="1049" y1="716.5" x2="1055" y2="716.5" stroke="#000" stroke-width="1"/>
<line x1="1059" y1="716.5" x2="1065" y2="716.5" stroke="#000" stroke-width="1"/>
<line x1="1064" y1="716.5" x2="1071" y2="716.5" stroke="#000" stroke-width="1"/>
<line x1="1075" y1="716.5" x2="1081" y2="716.5" stroke="#000" stroke-width="1"/>
<line x1="1080" y1="716.5" x2="1086" y2="716.5" stroke="#000" stroke-width="1"/>
<line x1="1091" y1="716.5" x2="1097" y2="716.5" stroke="#000" stroke-width="1"/>
<line x1="1096" y1="716.5" x2="1102" y2="716.5" stroke="#000" stroke-width="1"/>
<line x1="1106" y1="716.5" x2="1112" y2="716.5" stroke="#000" stroke-width="1"/>
<line x1="1111" y1="716.5" x2="1118" y2="716.5" stroke="#000" stroke-width="1"/>
<line x1="1122" y1="716.5" x2="1128" y2="716.5" stroke="#000" stroke-width="1"/>
<line x1="1127" y1="716.5" x2="1133" y2="716.5" stroke="#000" stroke-width="1"/>
<line x1="1138" y1="716.5" x2="1144" y2="716.5" stroke="#000" stroke-width="1"/>
<line x1="1143" y1="716.5" x2="1149" y2="716.5" stroke="#000" stroke-width="1"/>
<text x="0" y="0" transform="translate(689.4 748) scale(1,1.1)" font-size="13" text-anchor="middle">[-0.166,-0.154)</text>
<text x="0" y="0" transform="translate(797.9 748) scale(1,1.1)" font-size="13" text-anchor="middle">[-0.0829,-0.0711)</text>
<text x="0" y="0" transform="translate(923.3 748) scale(1,1.1)" font-size="13" text-anchor="middle">[0.0115,0.0233)</text>
<text x="0" y="0" transform="translate(1033.1 748) scale(1,1.1)" font-size="13" text-anchor="middle">[0.0941,0.106)</text>
<text x="0" y="0" transform="translate(1127.1 748) scale(1,1.1)" font-size="13" text-anchor="middle">[0.165,0.177)</text>
<rect x="665.5" y="465.5" width="501.0" height="253.0" fill="none" stroke="#000" stroke-width="1"/>
<line x1="657" y1="716.5" x2="665.5" y2="716.5" stroke="#000" stroke-width="1" />
<text x="0" y="0" transform="translate(646.5 716.9) rotate(-90) scale(0.95,1.12)" font-size="13" text-anchor="middle" font-weight="normal" fill="#000">0</text>
<line x1="657" y1="669.5" x2="665.5" y2="669.5" stroke="#000" stroke-width="1" />
<text x="0" y="0" transform="translate(646.5 669.9) rotate(-90) scale(0.95,1.12)" font-size="13" text-anchor="middle" font-weight="normal" fill="#000">500</text>
<line x1="657" y1="622.5" x2="665.5" y2="622.5" stroke="#000" stroke-width="1" />
<text x="0" y="0" transform="translate(646.5 622.9) rotate(-90) scale(0.95,1.12)" font-size="13" text-anchor="middle" font-weight="normal" fill="#000">1000</text>
<line x1="657" y1="575.5" x2="665.5" y2="575.5" stroke="#000" stroke-width="1" />
<text x="0" y="0" transform="translate(646.5 575.9) rotate(-90) scale(0.95,1.12)" font-size="13" text-anchor="middle" font-weight="normal" fill="#000">1500</text>
<line x1="657" y1="528.5" x2="665.5" y2="528.5" stroke="#000" stroke-width="1" />
<text x="0" y="0" transform="translate(646.5 528.9) rotate(-90) scale(0.95,1.12)" font-size="13" text-anchor="middle" font-weight="normal" fill="#000">2000</text>
<line x1="657" y1="482.5" x2="665.5" y2="482.5" stroke="#000" stroke-width="1" />
<text x="0" y="0" transform="translate(646.5 482.9) rotate(-90) scale(0.95,1.12)" font-size="13" text-anchor="middle" font-weight="normal" fill="#000">2500</text>
<rect x="992.5" y="465.5" width="174.0" height="48.0" fill="#fff" stroke="#000" stroke-width="1"/>
<rect x="1004.5" y="477.5" width="9.0" height="8.0" fill="#0000FF" stroke="#000" stroke-width="1"/>
<rect x="1004.5" y="493.5" width="9.0" height="8.0" fill="#FFFF00" stroke="#000" stroke-width="1"/>
<text x="0" y="0" transform="translate(1025.5 487) scale(1.0,1.1)" font-size="13" text-anchor="start" font-weight="normal" fill="#000">STEW return frequency</text>
<text x="0" y="0" transform="translate(1025.5 503) scale(1.0,1.1)" font-size="13" text-anchor="start" font-weight="normal" fill="#000">GSPC return frequency</text>
<text x="0" y="0" transform="translate(915 780) scale(1.0,1.1)" font-size="13" text-anchor="middle" font-weight="normal" fill="#000">return</text>
<text x="0" y="0" transform="translate(615 593) rotate(-90) scale(1.0,1.1)" font-size="13" text-anchor="middle" font-weight="normal" fill="#000">frequency</text>
</svg></body></html>
